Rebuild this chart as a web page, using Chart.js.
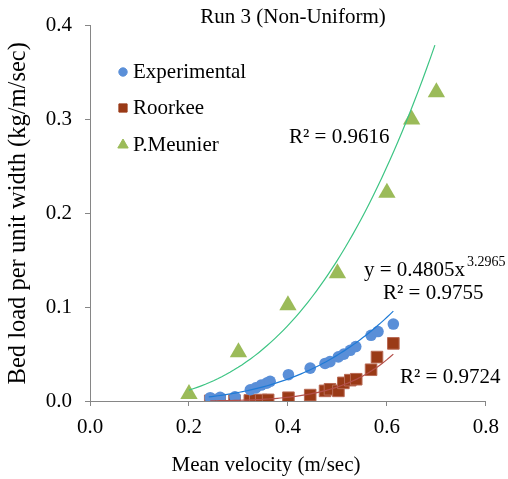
<!DOCTYPE html>
<html><head><meta charset="utf-8">
<script src="https://cdn.jsdelivr.net/npm/chart.js@4.4.1/dist/chart.umd.min.js"></script>
<style>html,body{margin:0;padding:0;background:#fff;}#wrap{width:508px;height:479px;}</style>
</head><body><div id="wrap"><canvas id="c" width="508" height="479"></canvas></div>
<script>
// ---- data ----
const expVelocity = [0.243,0.263,0.293,0.324,0.335,0.346,0.357,0.364,0.401,0.445,0.475,0.485,0.502,0.513,0.526,0.537,0.568,0.582,0.613];
const expLoad     = [0.0035,0.004,0.0045,0.012,0.014,0.017,0.019,0.021,0.028,0.035,0.040,0.042,0.047,0.050,0.054,0.058,0.070,0.074,0.082];
const roorkeeVelocity = [0.243,0.262,0.292,0.323,0.334,0.346,0.360,0.401,0.445,0.475,0.485,0.502,0.512,0.526,0.538,0.568,0.580,0.613];
const roorkeeLoad     = [0.0002,0.0003,0.0004,0.0006,0.0008,0.0010,0.0012,0.0035,0.0063,0.0108,0.0125,0.0108,0.0193,0.0222,0.0232,0.0333,0.0468,0.0614];
const meunierVelocity = [0.2,0.3,0.4,0.5,0.6,0.65,0.7];
const meunierLoad     = [0.0074,0.052,0.102,0.136,0.222,0.300,0.329];
const xTickValues = [0,0.2,0.4,0.6,0.8];
const yTickValues = [0,0.1,0.2,0.3,0.4];
const seriesNames = ['Experimental','Roorkee','P.Meunier'];
// power-law trendlines y = a x^b (Excel trendlines)
const expFit     = {a:0.4805, b:3.2965, from:0.240, to:0.613};
const roorkeeFit = {a:0.906,  b:5.92,   from:0.243, to:0.613};
const meunierFit = {a:1.038,  b:2.79,   from:0.200, to:0.697};

const toPts = (xs, ys) => xs.map((x,i)=>({x, y:ys[i]}));
function trend(fit){
  const pts=[]; const n=60;
  for(let i=0;i<=n;i++){const x=fit.from+(fit.to-fit.from)*i/n; pts.push({x, y:fit.a*Math.pow(x,fit.b)});}
  return pts;
}
const SERIF = '"Liberation Serif","Times New Roman",serif';
const colors = {exp:'#5A8FD8', roork:'#9A3A17', roorkBorder:'#B86A55', meun:'#9BBB59',
  expLine:'#1F7BD6', roorkLine:'#B4504A', meunLine:'#3CC483', axis:'#868686'};

const overlay = {
  id:'overlay',
  afterDraw(chart){
    const ctx = chart.ctx; ctx.save();
    ctx.fillStyle='#000'; ctx.textBaseline='middle';
    ctx.font = '21px '+SERIF;
    ctx.textAlign='center';
    ctx.fillText('Run 3 (Non-Uniform)', 293, 17);
    ctx.fillText('Mean velocity (m/sec)', 266, 465);
    // legend
    ctx.textAlign='left';
    const leg = [
      {y:72, style:'circle', r:4.2, fill:colors.exp, border:colors.exp},
      {y:108, style:'rect', r:5.8, fill:colors.roork, border:colors.roork},
      {y:145, style:'triangle', r:6, fill:colors.meun, border:colors.meun}
    ];
    leg.forEach((l,i)=>{
      ctx.fillStyle=l.fill; ctx.strokeStyle=l.border; ctx.lineWidth=1;
      Chart.helpers.drawPoint(ctx,{pointStyle:l.style, radius:l.r, rotation:0, borderWidth:1}, 123, l.y);
      ctx.fillStyle='#000';
      ctx.fillText(seriesNames[i], 133, l.y);
    });
    // trendline labels
    ctx.fillText('R\u00B2 = 0.9616', 289, 137);
    ctx.fillText('y = 0.4805x', 364, 270);
    const w = ctx.measureText('y = 0.4805x').width;
    ctx.font = '14px '+SERIF;
    ctx.fillText('3.2965', 364+w+2, 262);
    ctx.font = '21px '+SERIF;
    ctx.fillText('R\u00B2 = 0.9755', 383, 293);
    ctx.fillText('R\u00B2 = 0.9724', 400, 377);
    ctx.restore();
  }
};

new Chart(document.getElementById('c'), {
  type:'scatter',
  data:{datasets:[
    {label:'Experimental trend', data:trend(expFit), showLine:true, borderColor:colors.expLine, borderWidth:1.2, pointRadius:0, order:1},
    {label:'Roorkee trend', data:trend(roorkeeFit), showLine:true, borderColor:colors.roorkLine, borderWidth:1.2, pointRadius:0, order:1},
    {label:'P.Meunier trend', data:trend(meunierFit), showLine:true, borderColor:colors.meunLine, borderWidth:1.2, pointRadius:0, order:1},
    {label:seriesNames[0], data:toPts(expVelocity, expLoad), pointStyle:'circle', pointRadius:5.8, backgroundColor:colors.exp, borderColor:colors.exp, borderWidth:0, order:2},
    {label:seriesNames[1], data:toPts(roorkeeVelocity, roorkeeLoad), pointStyle:'rect', pointRadius:8.2, backgroundColor:colors.roork, borderColor:colors.roorkBorder, borderWidth:1, order:2},
    {label:seriesNames[2], data:toPts(meunierVelocity, meunierLoad), pointStyle:'triangle', pointRadius:10, backgroundColor:colors.meun, borderColor:colors.meun, borderWidth:0, order:2}
  ]},
  options:{
    responsive:false, animation:false, devicePixelRatio:1,
    layout:{padding:{top:22, right:17, left:0, bottom:0}},
    plugins:{legend:{display:false}, tooltip:{enabled:false}, title:{display:false}},
    scales:{
      x:{type:'linear', min:0, max:0.8,
        afterBuildTicks:s=>{s.ticks = xTickValues.map(v=>({value:v}));},
        afterFit:s=>{s.height=78;},
        ticks:{callback:v=>Number(v).toFixed(1), font:{family:SERIF, size:21}, color:'#000', padding:9, maxRotation:0},
        grid:{drawOnChartArea:false, tickLength:5, color:colors.axis},
        border:{color:colors.axis, width:1}
      },
      y:{type:'linear', min:0, max:0.4,
        afterBuildTicks:s=>{s.ticks = yTickValues.map(v=>({value:v}));},
        afterFit:s=>{s.width=90;},
        ticks:{callback:v=>Number(v).toFixed(1), font:{family:SERIF, size:21}, color:'#000', padding:13},
        grid:{drawOnChartArea:false, tickLength:5, color:colors.axis},
        border:{color:colors.axis, width:1},
        title:{display:true, text:'Bed load per unit width (kg/m/sec)', font:{family:SERIF, size:24.5}, color:'#000', padding:{top:4, bottom:0}}
      }
    }
  },
  plugins:[overlay]
});
</script></body></html>
